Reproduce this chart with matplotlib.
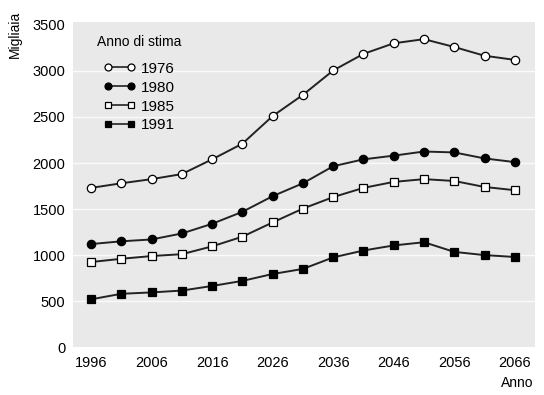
import matplotlib
matplotlib.use("Agg")
import matplotlib.pyplot as plt
from matplotlib.lines import Line2D

plt.rcParams["font.family"] = ["Liberation Sans", "DejaVu Sans"]

# anni di proiezione (ogni 5 anni)
anni = [1996, 2001, 2006, 2011, 2016, 2021, 2026, 2031, 2036, 2041,
        2046, 2051, 2056, 2061, 2066]

# valori in migliaia, per anno di stima
stima_1976 = [1730, 1780, 1825, 1880, 2040, 2210, 2510, 2740, 3005, 3185,
              3300, 3345, 3260, 3165, 3120]
stima_1980 = [1120, 1150, 1170, 1235, 1340, 1470, 1640, 1780, 1965, 2040,
              2080, 2125, 2115, 2050, 2010]
stima_1985 = [925, 960, 990, 1010, 1095, 1200, 1355, 1505, 1630, 1730,
              1795, 1825, 1805, 1740, 1705]
stima_1991 = [520, 580, 595, 615, 665, 720, 795, 850, 975, 1050,
              1105, 1140, 1035, 1000, 980]

serie = [
    ("1976", stima_1976, "o", "white"),
    ("1980", stima_1980, "o", "black"),
    ("1985", stima_1985, "s", "white"),
    ("1991", stima_1991, "s", "black"),
]

x_ticks = [1996, 2006, 2016, 2026, 2036, 2046, 2056, 2066]
y_ticks = [0, 500, 1000, 1500, 2000, 2500, 3000, 3500]

fig = plt.figure(figsize=(5.44, 3.95), dpi=100)
ax = fig.add_axes([0.134, 0.121, 0.849, 0.823])
ax.set_facecolor("#e9e9e9")

for y in y_ticks[1:-1]:
    ax.axhline(y, color="white", lw=1.0, alpha=0.8, zorder=1)

for label, vals, mk, fc in serie:
    ax.plot(anni, vals, color="#222222", lw=1.4, marker=mk,
            markersize=6 if mk == "o" else 5.8, markerfacecolor=fc,
            markeredgecolor="black", markeredgewidth=0.9, zorder=3)

ax.set_xlim(1993.0, 2069.3)
ax.set_ylim(20, 3530)
ax.set_xticks(x_ticks)
ax.set_yticks(y_ticks)
ax.tick_params(length=0, labelsize=10.5)
ax.tick_params(axis="x", pad=6)
ax.tick_params(axis="y", pad=5.5)
for s in ax.spines.values():
    s.set_visible(False)

fig.text(0.028, 0.972, "Migliaia", rotation=90, ha="center", va="top", fontsize=10)
fig.text(0.98, 0.03, "Anno", ha="right", va="center", fontsize=10)

# legenda: titolo a parte, voci sotto
fig.text(0.178, 0.894, "Anno di stima", ha="left", va="center", fontsize=10)
handles = [Line2D([0], [0], color="#222222", lw=1.2, marker=mk,
                  markersize=5 if mk == "o" else 4.8, markerfacecolor=fc,
                  markeredgecolor="black", markeredgewidth=0.9)
           for _, _, mk, fc in serie]
ax.legend(handles, [s[0] for s in serie], loc="upper left",
          bbox_to_anchor=(0.067, 0.878), frameon=False, fontsize=11,
          numpoints=2, handlelength=2.1, handletextpad=0.3,
          labelspacing=0.32, borderpad=0, borderaxespad=0)

fig.savefig("out.png", dpi=100)
